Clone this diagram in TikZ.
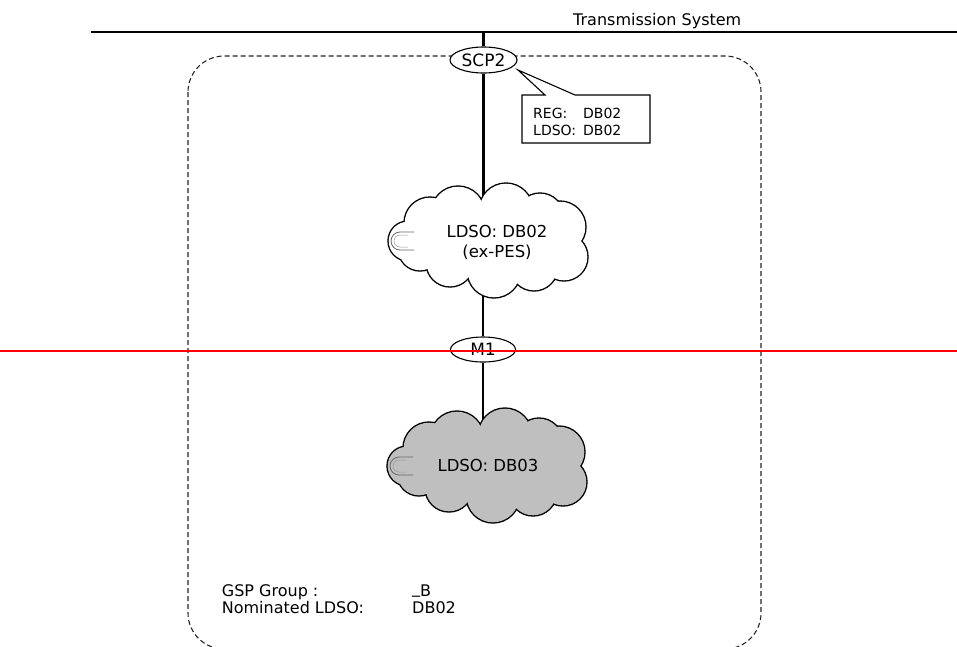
\documentclass[tikz,border=0pt]{standalone}
\usepackage{fontspec}
\setmainfont{DejaVu Sans}
\usetikzlibrary{shapes.geometric}
\newcommand\cloudlobes{-58/18/26, -30/28/27, 18/31/27, 52/24/24, 72/14/26, 76/-16/24, 46/-26/24, 6/-30/27, -38/-22/24, -68/-8/22, -80/0/20}
\newcommand\drawcloud[2]{%
  \begin{scope}[shift={#1}]
    \foreach \cx/\cy/\rr in \cloudlobes {\fill[black] (\cx,\cy) circle[radius=\rr pt+0.7pt];}
    \foreach \cx/\cy/\rr in \cloudlobes {\fill[#2] (\cx,\cy) circle[radius=\rr pt-0.7pt];}
    \fill[#2] (0,0) ellipse[x radius=70pt, y radius=30pt];
    \draw[line width=0.8pt, black!60] (-74,9) -- (-88,9) arc[start angle=90, end angle=270, radius=9pt] -- (-74,-9);
    \draw[line width=0.5pt, black!40] (-80,6) -- (-88,6) arc[start angle=90, end angle=270, radius=6pt] -- (-80,-6);
  \end{scope}}
\begin{document}
\begin{tikzpicture}[x=1pt,y=1pt,
  lbl/.style={font=\fontsize{16}{20}\selectfont, inner sep=0pt},
  smalltxt/.style={font=\fontsize{14}{17}\selectfont, inner sep=0pt},
  oval/.style={ellipse, draw, line width=1.1pt, fill=white, minimum width=67pt, minimum height=26pt, inner sep=0pt, font=\fontsize{17}{20}\selectfont},
  wire/.style={line width=2.4pt},
  cloudbox/.style={minimum width=202pt, minimum height=115pt, inner sep=0pt},
  cloudtxt/.style={align=center, inner sep=0pt, font=\fontsize{16.5}{20}\selectfont},
  frame/.style={line width=1.1pt, black!85, dash pattern=on 5pt off 3pt, rounded corners=36pt},
]
\useasboundingbox (0,0) rectangle (957,-646);

% GSP group boundary
\coordinate (fa) at (188,-56);
\coordinate (fb) at (761,-649);
\draw[frame] (fa) rectangle (fb);

% transmission system bus
\coordinate (tl) at (91,-32);
\coordinate (tr) at (957,-32);
\draw[line width=2.8pt] (tl) -- (tr);
\node[lbl, anchor=base west] (title) at (573,-25) {Transmission System};

% nodes
\node[oval] (scp2) at (483.5,-60) {SCP2};
\node[oval, minimum width=65pt, minimum height=25pt] (m1) at (483,-349.5) {M1};
\node[cloudbox] (c1) at (488,-241) {};
\node[cloudbox] (c2) at (487,-466) {};
\coordinate (tsx) at (483.5,-32);

% connectors
\draw[wire] (tsx) -- (scp2.north);
\draw[wire] (scp2.south) -- (scp2.south |- c1.center);
\draw[wire] (m1.north) -- (m1.north |- c1.center);
\draw[wire] (m1.south) -- (m1.south |- c2.center);

% clouds
\drawcloud{(488,-241)}{white}
\drawcloud{(487,-466)}{black!25}
\node[cloudtxt] (c1t) at (497,-242) {LDSO: DB02\\(ex-PES)};
\node[cloudtxt] (c2t) at (488,-465) {LDSO: DB03};

% callout
\coordinate (tip) at (518,-70);
\draw[line width=1.1pt, fill=white] (522,-95) -- (545,-95) -- (tip) -- (575,-95) -- (650,-95) -- (650,-143) -- (522,-143) -- cycle;
\node[smalltxt, anchor=base west] (reg) at (533,-118) {\makebox[50pt][l]{REG:}DB02};
\node[smalltxt, anchor=base west] (ldso) at (533,-135) {\makebox[50pt][l]{LDSO:}DB02};

% GSP group info
\node[lbl, anchor=base west] (gsp) at (221.7,-596.5) {GSP Group :};
\node[lbl, anchor=base west] (gspv) at (412,-596.5) {\raisebox{3pt}{\_}B};
\node[lbl, anchor=base west] (nom) at (221.7,-613) {Nominated LDSO:};
\node[lbl, anchor=base west] (nomv) at (412,-613) {DB02};

% red boundary line
\coordinate (rl) at (0,-350.7);
\coordinate (rr) at (957,-350.7);
\draw[red, line width=2pt] (rl) -- (rr);
\end{tikzpicture}
\end{document}
